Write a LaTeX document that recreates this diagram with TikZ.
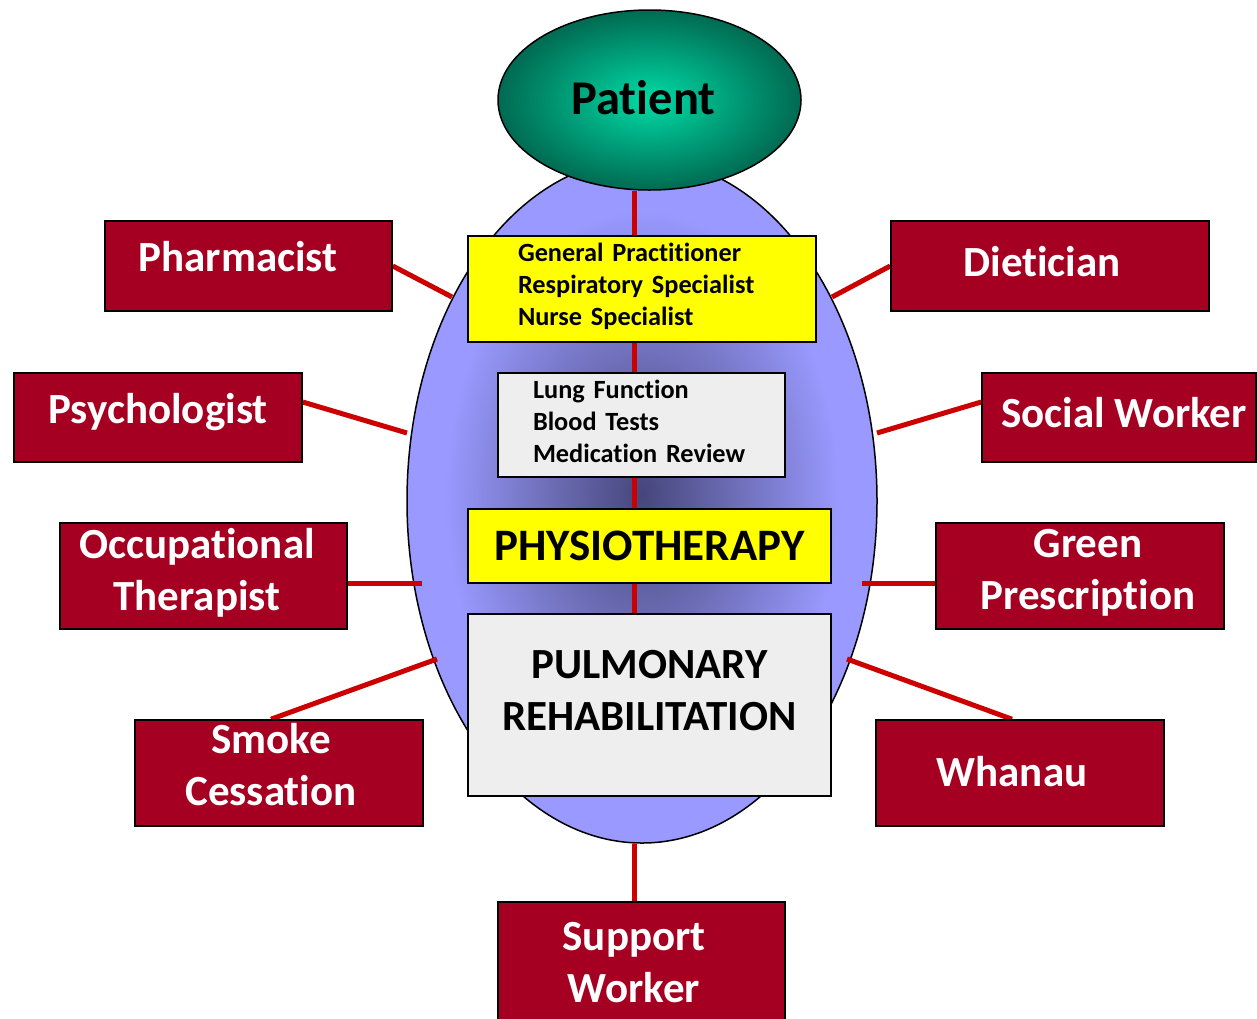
\documentclass[tikz,border=0pt]{standalone}
\usepackage{fontspec}
\setmainfont{Carlito}[Ligatures=CommonOff]
\usetikzlibrary{shapes.geometric}
\definecolor{boxred}{HTML}{A50021}
\definecolor{linered}{HTML}{CC0000}
\definecolor{boxgrey}{HTML}{EEEEEE}
\definecolor{boxyellow}{HTML}{FFFF00}
\definecolor{tdark}{HTML}{46467C}
\definecolor{tmid}{HTML}{6E6EB8}
\definecolor{tlight}{HTML}{9999FF}
\definecolor{pcenter}{HTML}{00DBA5}
\definecolor{pedge}{HTML}{006A52}
\pgfdeclareradialshading{teamshade}{\pgfpoint{0bp}{0.5bp}}{color(0bp)=(tdark); color(10bp)=(tmid); color(21bp)=(tlight); color(50bp)=(tlight)}
\pgfdeclareradialshading{patshade}{\pgfpoint{0bp}{0bp}}{color(0bp)=(pcenter); color(25bp)=(pedge); color(50bp)=(pedge)}
\pgfdeclarelayer{bg}
\pgfdeclarelayer{lines}
\pgfsetlayers{bg,lines,main}
\newcommand\myredfont{\fontsize{43}{52}\selectfont\bfseries}
\newcommand\mysmallfont{\fontsize{26.3}{32}\selectfont\bfseries}
\begin{document}
\begin{tikzpicture}[x=1pt,y=-1pt,
  redbox/.style={draw=black, line width=1.6pt, fill=boxred, inner sep=0pt},
  redtext/.style={text=white, font=\myredfont, align=center, inner sep=0pt},
  yelbox/.style={draw=black, line width=1.6pt, fill=boxyellow, text=black, inner sep=0pt},
  greybox/.style={draw=black, line width=1.6pt, fill=boxgrey, text=black, inner sep=0pt},
  conn/.style={draw=linered, line width=5pt},
]
\useasboundingbox (0,0) rectangle (1257,1018);

% central team ellipse
\begin{pgfonlayer}{bg}
\node[ellipse, draw=black, line width=1.5pt, shade, shading=teamshade, minimum width=470pt, minimum height=684pt, inner sep=0pt] (team) at (642,501) {};
\end{pgfonlayer}

% patient
\node[ellipse, draw=black, line width=1.5pt, shade, shading=patshade, minimum width=303pt, minimum height=180pt, inner sep=0pt] (patient) at (649.5,100) {};
\node[inner sep=0pt, font=\fontsize{48.5}{56}\selectfont\bfseries] (patienttext) at (643.5,98) {Patient};

% central boxes
\node[yelbox, minimum height=106pt, inner xsep=50pt, text width=248pt, align=left, font=\mysmallfont] (gp) at (642,289)
  {\mbox{General Practitioner}\\\mbox{Respiratory Specialist}\\\mbox{Nurse Specialist}\par\vspace{5pt}};
\node[greybox, minimum height=104pt, inner xsep=35pt, text width=217pt, align=left, font=\mysmallfont] (lung) at (641.5,425)
  {\mbox{Lung Function}\\\mbox{Blood Tests}\\\mbox{Medication Review}\par\vspace{8pt}};
\node[yelbox, minimum width=363pt, minimum height=74pt, font=\fontsize{45}{52}\selectfont\bfseries] (physio) at (649.5,546) {PHYSIOTHERAPY};
\node[greybox, minimum width=363pt, minimum height=182pt] (pulm) at (649.5,705) {};
\node[align=center, inner sep=0pt, font=\fontsize{43}{52}\selectfont\bfseries] (pulmtext) at (649.5,691) {PULMONARY\\REHABILITATION};

% outer red boxes
\node[redbox, minimum width=287pt, minimum height=90pt] (pharm) at (248.5,266) {};
\node[redtext] (pharm-t) at (238,257) {Pharmacist};
\node[redbox, minimum width=288pt, minimum height=89pt] (psych) at (158,417.5) {};
\node[redtext] (psych-t) at (158,412.5) {Psychologist};
\node[redbox, minimum width=287pt, minimum height=106pt] (ot) at (203.5,576) {};
\node[redtext] (ot-t) at (197,573) {Occupational\\Therapist};
\node[redbox, minimum width=288pt, minimum height=106pt] (smoke) at (279,773) {};
\node[redtext] (smoke-t) at (271,765) {Smoke\\Cessation};
\node[redbox, minimum width=318pt, minimum height=90pt] (diet) at (1050,266) {};
\node[redtext] (diet-t) at (1042,262) {Dietician};
\node[redbox, minimum width=274pt, minimum height=89pt] (social) at (1119,417.5) {};
\node[redtext] (social-t) at (1124,412.5) {Social Worker};
\node[redbox, minimum width=288pt, minimum height=106pt] (green) at (1080,576) {};
\node[redtext] (green-t) at (1088,573) {Green\\Prescription};
\node[redbox, minimum width=288pt, minimum height=106pt] (whanau) at (1020,773) {};
\node[redtext] (whanau-t) at (1012,772) {Whanau};
\node[redbox, minimum width=287pt, minimum height=122pt] (support) at (641.5,963) {};
\node[redtext] (support-t) at (634,962.5) {Support\\Worker};

% connector end points on the ellipse
\coordinate (sp) at (634,0);
\coordinate (e-pharm) at (452,297);
\coordinate (e-psych) at (407,433);
\coordinate (e-ot) at (422,583);
\coordinate (e-smoke) at (437,659);
\coordinate (e-diet) at (832,297);
\coordinate (e-social) at (877,433);
\coordinate (e-green) at (862,583);
\coordinate (e-whanau) at (847,659);

\begin{pgfonlayer}{lines}
\draw[conn] (patient.south -| sp) -- (gp.north -| sp);
\draw[conn] (gp.south -| sp) -- (lung.north -| sp);
\draw[conn] (lung.south -| sp) -- (physio.north -| sp);
\draw[conn] (physio.south -| sp) -- (pulm.north -| sp);
\draw[conn] (team.south -| sp) -- (support.north -| sp);
\draw[conn] (pharm.east) -- (e-pharm);
\draw[conn] ([yshift=15.5pt]psych.east) -- (e-psych);
\draw[conn] ([yshift=-7pt]ot.east) -- (e-ot);
\draw[conn] ([xshift=-8pt]smoke.north) -- (e-smoke);
\draw[conn] (diet.west) -- (e-diet);
\draw[conn] ([yshift=15.5pt]social.west) -- (e-social);
\draw[conn] ([yshift=-7pt]green.west) -- (e-green);
\draw[conn] ([xshift=-8pt]whanau.north) -- (e-whanau);
\end{pgfonlayer}
\end{tikzpicture}
\end{document}
